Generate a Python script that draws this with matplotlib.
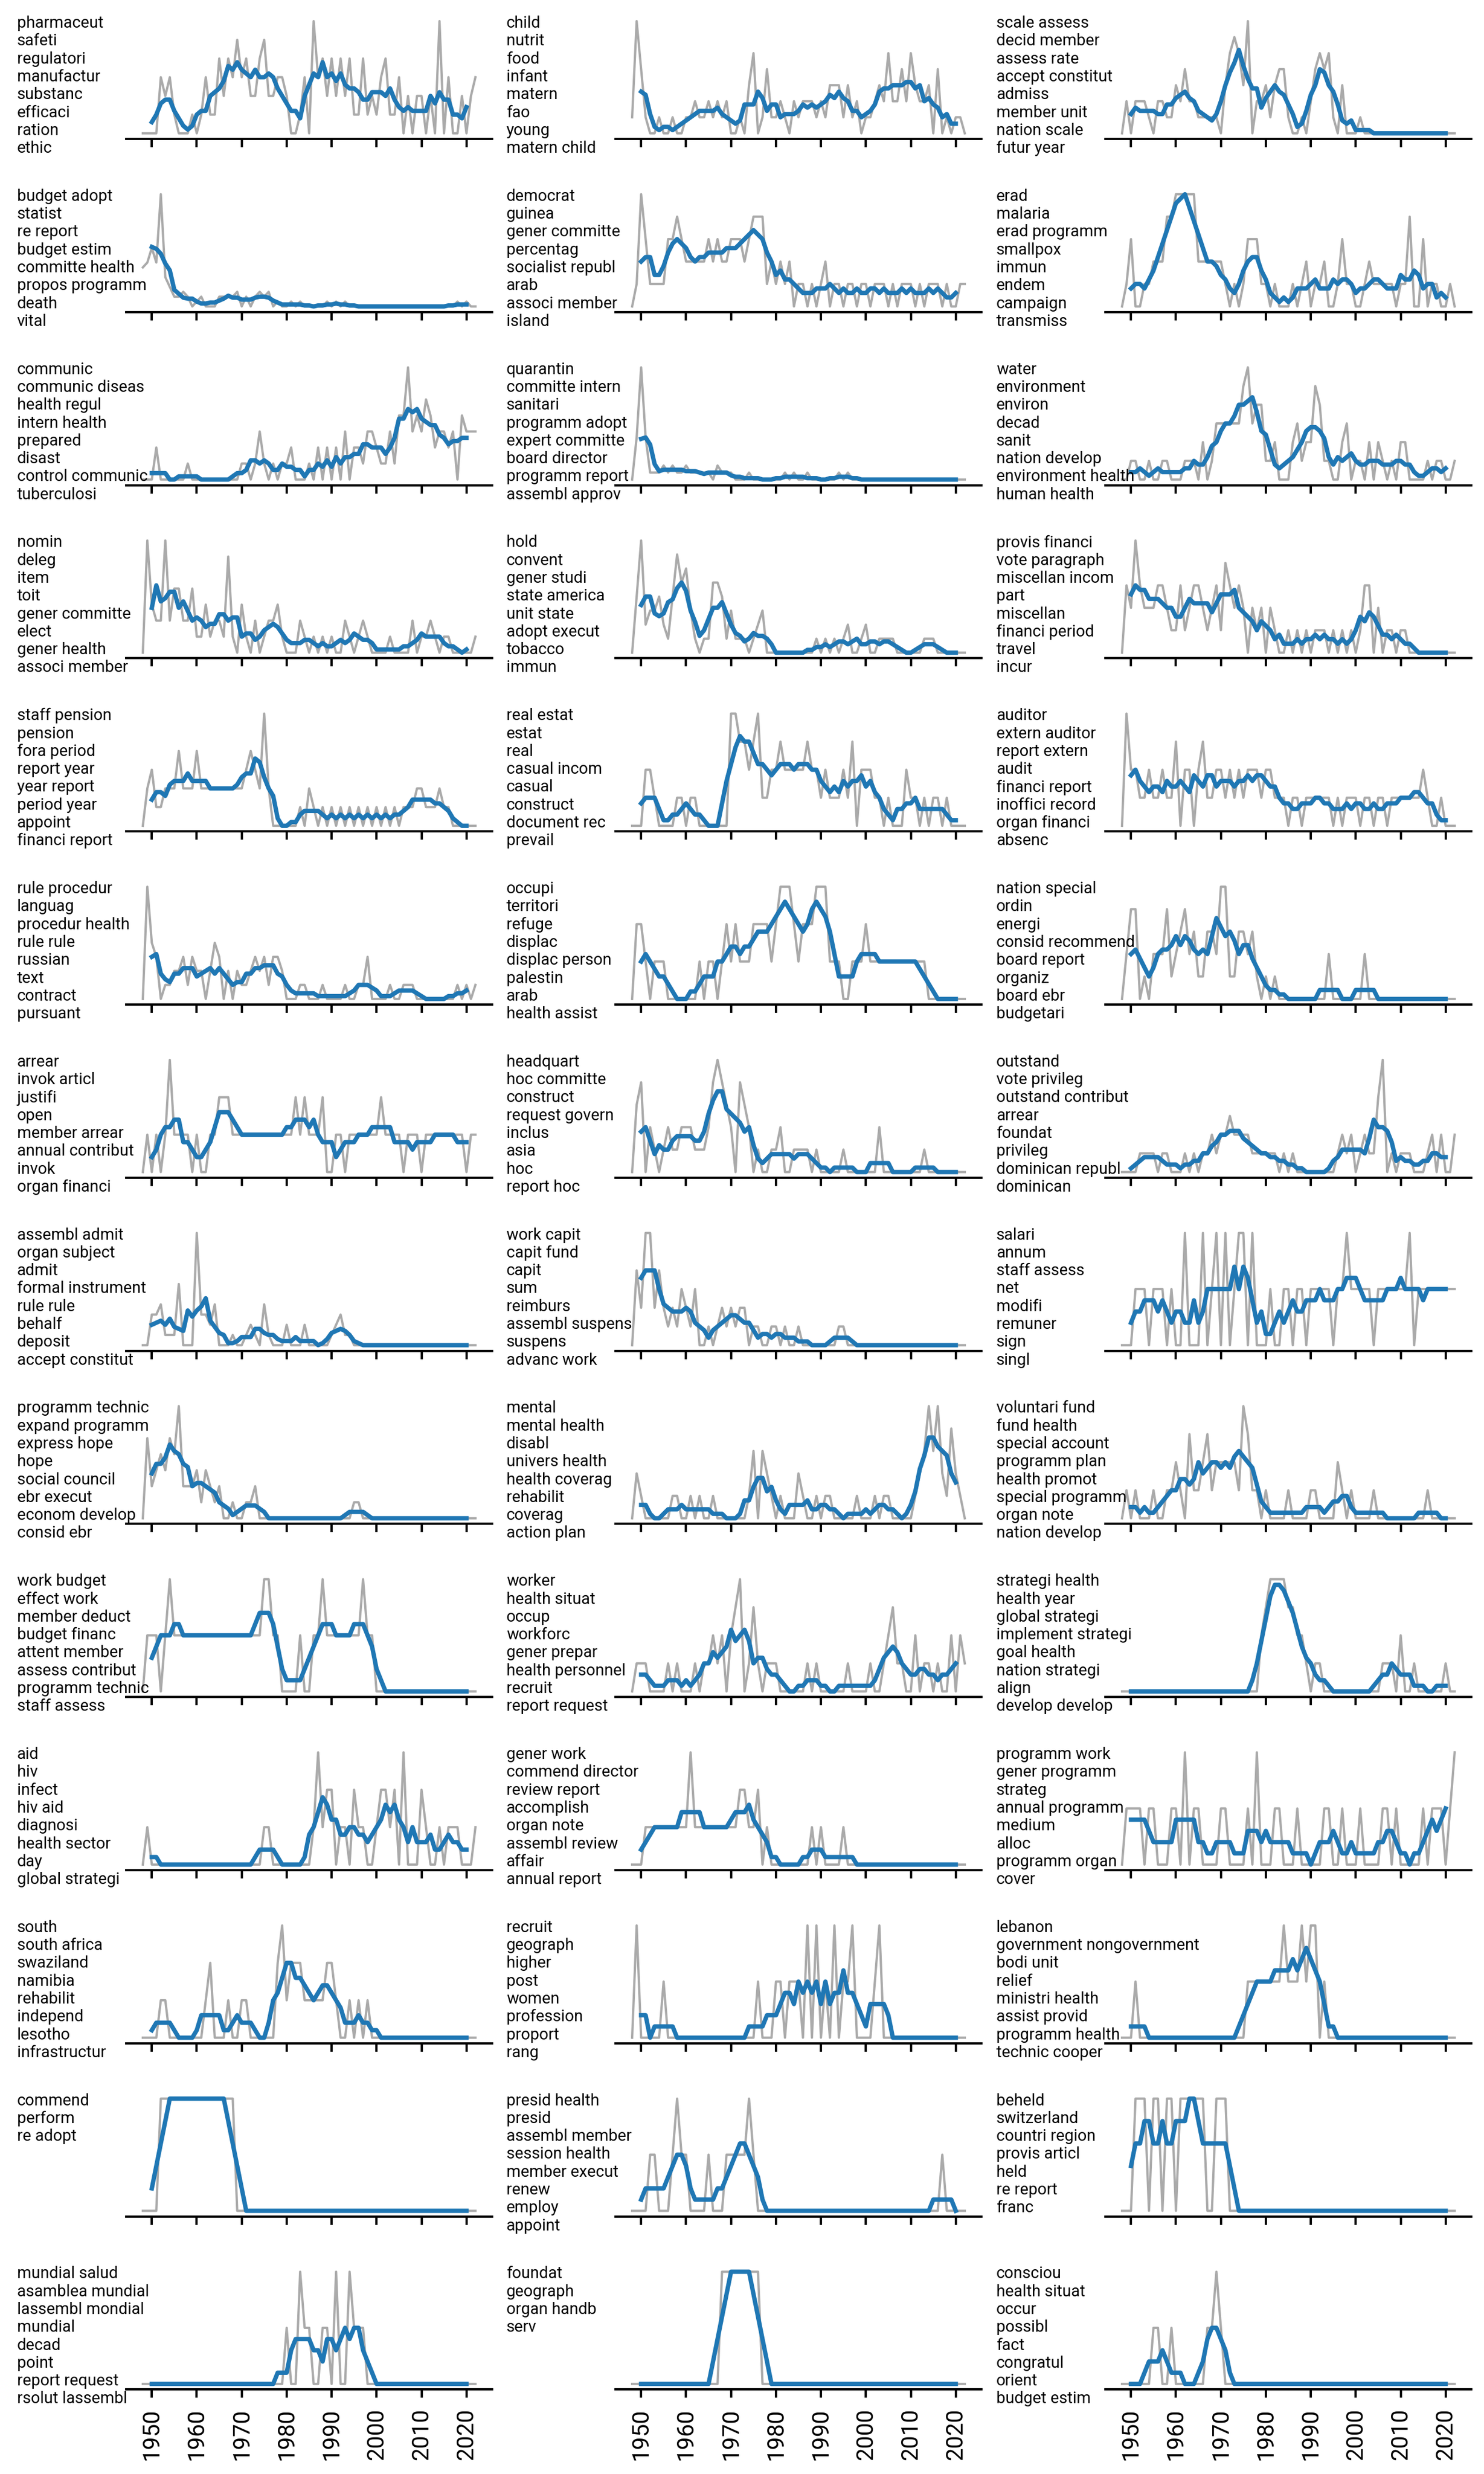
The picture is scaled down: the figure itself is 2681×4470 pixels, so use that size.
import numpy as np
import pandas as pd
import matplotlib
matplotlib.use("Agg")
import matplotlib.pyplot as plt

plt.rcParams['font.family'] = ['Roboto', 'DejaVu Sans']

# yearly counts 1948-2022, one list per topic
years = np.arange(1948, 2023)

pharmaceut_words = ["pharmaceut", "safeti", "regulatori", "manufactur", "substanc", "efficaci", "ration", "ethic"]
pharmaceut = [0,0,0,0,3,2,3,1,0,0, 0,1,0,1,3,1,1,4,2,4, 3,5,3,4,2,2,4,5,2,2, 3,3,2,0,0,1,3,0,6,3,
              4,2,4,2,4,2,4,1,1,4, 1,2,1,3,4,1,1,3,0,2, 0,2,2,0,2,0,6,0,3,0, 0,2,0,2,3]

child_words = ["child", "nutrit", "food", "infant", "matern", "fao", "young", "matern child"]
child = [1,7,4,1,0,0,1,0,0,1, 0,0,1,1,2,1,1,2,1,2, 1,2,0,0,1,0,3,5,0,1, 4,1,1,2,1,0,2,1,2,2,
         2,1,2,1,3,3,3,1,3,1, 2,0,1,1,2,3,2,5,2,2, 4,2,5,3,2,2,3,0,4,0, 1,0,1,1,0]

scale_assess_words = ["scale assess", "decid member", "assess rate", "accept constitut", "admiss", "member unit", "nation scale", "futur year"]
scale_assess = [0,2,0,2,2,2,1,0,2,2, 1,1,3,2,4,2,2,1,1,1, 1,1,0,3,5,6,5,3,7,0, 2,2,3,1,3,4,4,1,0,0,
                1,0,2,4,5,4,5,1,0,3, 0,0,0,1,0,0,0,0,0,0, 0,0,0,0,0,0,0,0,0,0, 0,0,0,0,0]

budget_adopt_words = ["budget adopt", "statist", "re report", "budget estim", "committe health", "propos programm", "death", "vital"]
budget_adopt = [8,9,12,9,23,6,4,2,2,3, 2,0,1,2,0,0,0,2,2,2, 2,3,0,2,0,2,3,2,3,0, 1,0,0,1,0,1,0,0,0,0,
                0,1,0,1,0,1,0,0,0,0, 0,0,0,0,0,0,0,0,0,0, 0,0,0,0,0,0,0,0,0,0, 1,0,1,0,0]

democrat_words = ["democrat", "guinea", "gener committe", "percentag", "socialist republ", "arab", "associ member", "island"]
democrat = [0,1,5,3,1,1,1,1,3,3, 4,3,2,2,2,2,2,3,2,3, 2,2,3,3,3,2,3,4,4,4, 1,2,1,2,1,2,0,1,1,0,
            1,0,1,2,0,1,1,0,1,1, 0,1,1,0,1,1,1,0,1,0, 1,1,1,0,1,0,1,1,1,0, 1,0,0,1,1]

erad_words = ["erad", "malaria", "erad programm", "smallpox", "immun", "endem", "campaign", "transmiss"]
erad = [0,1,3,0,0,1,1,2,2,2, 4,4,5,5,5,5,5,2,2,2, 2,2,2,1,0,1,0,1,3,3, 3,1,1,0,1,0,0,0,1,0,
        1,2,0,1,1,2,0,0,1,3, 1,1,0,0,1,2,1,1,1,1, 1,0,1,1,4,0,0,3,0,1, 1,0,0,1,0]

communic_words = ["communic", "communic diseas", "health regul", "intern health", "prepared", "disast", "control communic", "tuberculosi"]
communic = [0,0,0,2,0,0,0,0,0,0, 1,0,0,0,0,0,0,0,0,0, 0,0,1,1,0,1,3,1,0,1, 0,1,1,2,0,0,0,1,0,2,
            0,2,0,2,0,3,0,2,2,1, 3,3,2,1,1,3,1,4,4,7, 3,4,3,5,4,2,3,3,2,3, 0,4,3,3,3]

quarantin_words = ["quarantin", "committe intern", "sanitari", "programm adopt", "expert committe", "board director", "programm report", "assembl approv"]
quarantin = [0,6,16,6,1,1,1,2,1,2, 1,1,2,1,1,1,1,1,0,2, 1,1,1,0,0,0,1,0,0,0, 0,0,0,0,1,0,1,0,0,1,
             0,0,0,0,0,0,1,0,1,0, 0,0,0,0,0,0,0,0,0,0, 0,0,0,0,0,0,0,0,0,0, 0,0,0,0,0]

water_words = ["water", "environment", "environ", "decad", "sanit", "nation develop", "environment health", "human health"]
water = [0,0,1,1,0,0,1,0,0,1, 1,0,0,0,1,1,1,0,2,0, 1,3,3,3,3,3,3,5,6,3, 4,4,1,1,2,0,0,0,2,3,
         1,2,2,5,4,1,1,0,0,2, 3,0,1,1,0,2,0,2,1,0, 1,0,2,2,0,0,0,0,1,0, 1,1,0,0,1]

nomin_words = ["nomin", "deleg", "item", "toit", "gener committe", "elect", "gener health", "associ member"]
nomin = [0,7,3,2,2,7,2,4,4,2, 2,4,1,1,3,1,2,2,1,6, 1,0,3,1,0,2,0,1,2,2, 3,1,0,0,0,2,1,0,1,0,
         1,0,1,0,0,2,1,0,1,2, 1,0,0,0,0,1,0,0,0,0, 2,0,1,1,2,1,0,1,1,0, 0,0,0,0,1]

hold_words = ["hold", "convent", "gener studi", "state america", "unit state", "adopt execut", "tobacco", "immun"]
hold = [0,4,8,2,3,3,4,2,1,4, 7,5,6,3,1,0,1,1,5,5, 4,1,3,1,1,1,0,1,2,3, 0,0,0,0,0,0,0,0,0,0,
        0,1,0,1,0,1,0,1,2,0, 0,1,2,0,0,1,1,1,1,0, 0,0,0,0,0,1,1,1,0,0, 0,0,0,0,0]

provis_financi_words = ["provis financi", "vote paragraph", "miscellan incom", "part", "miscellan", "financi period", "travel", "incur"]
provis_financi = [0,3,2,5,3,2,2,2,3,3, 2,1,1,3,1,2,3,3,2,1, 2,3,1,4,3,2,3,2,0,2, 1,2,0,2,1,0,0,1,0,1,
                  0,1,0,1,1,1,0,1,0,1, 0,1,0,1,3,3,0,2,0,1, 1,0,1,1,0,0,0,0,0,0, 0,0,0,0,0]

staff_pension_words = ["staff pension", "pension", "fora period", "report year", "year report", "period year", "appoint", "financi report"]
staff_pension = [0,2,3,1,1,2,2,2,4,2, 2,2,4,2,2,2,2,2,2,2, 2,2,2,3,4,3,2,6,2,0, 0,0,0,0,0,1,0,2,1,0,
                 1,0,1,0,1,0,1,0,1,0, 1,0,1,0,1,0,1,0,1,1, 1,2,2,1,1,1,2,1,1,0, 0,0,0,0,0]

real_estat_words = ["real estat", "estat", "real", "casual incom", "casual", "construct", "document rec", "prevail"]
real_estat = [0,0,0,2,2,1,0,0,0,0, 1,1,0,1,1,0,0,0,0,0, 0,0,4,4,3,3,2,3,4,1, 1,2,2,3,2,2,2,2,2,3,
              2,2,1,2,1,1,1,2,1,3, 0,2,2,2,1,1,0,1,0,0, 0,2,1,1,0,1,0,1,1,0, 1,0,0,0,0]

auditor_words = ["auditor", "extern auditor", "report extern", "audit", "financi report", "inoffici record", "organ financi", "absenc"]
auditor = [0,4,2,2,1,1,2,1,1,2, 1,1,3,0,2,2,0,2,3,1, 1,2,2,1,2,1,2,1,2,2, 2,1,2,2,1,1,1,0,1,1,
           0,1,1,1,1,1,1,0,1,0, 1,1,1,0,1,1,0,1,1,0, 1,1,1,1,1,1,1,2,1,0, 0,1,0,0,0]

rule_procedur_words = ["rule procedur", "languag", "procedur health", "rule rule", "russian", "text", "contract", "pursuant"]
rule_procedur = [0,8,4,3,0,1,1,2,2,3, 1,3,2,2,0,2,4,3,0,2, 0,2,1,1,2,3,2,3,1,3, 3,2,0,0,0,1,1,0,0,0,
                 1,0,0,0,0,1,0,0,1,1, 3,0,0,0,0,1,0,0,1,1, 1,0,0,0,0,0,0,0,0,0, 1,0,1,0,1]

occupi_words = ["occupi", "territori", "refuge", "displac", "displac person", "palestin", "arab", "health assist"]
occupi = [0,2,2,1,0,1,1,1,0,0, 0,0,0,0,0,1,0,1,1,0, 1,2,1,2,1,1,1,2,2,2, 2,1,2,3,3,3,2,1,2,2,
          2,3,3,3,1,1,1,0,0,1, 1,1,2,1,1,1,1,1,1,1, 1,1,1,1,1,1,0,0,0,0, 0,0,0,0,0]

nation_special_words = ["nation special", "ordin", "energi", "consid recommend", "board report", "organiz", "board ebr", "budgetari"]
nation_special = [0,2,4,4,0,1,0,2,2,2, 4,1,2,3,4,2,3,1,1,3, 3,2,5,5,1,1,3,3,2,3, 1,0,1,0,1,0,0,0,0,0,
                  0,0,0,0,0,0,2,0,0,0, 0,0,0,0,2,0,0,0,0,0, 0,0,0,0,0,0,0,0,0,0, 0,0,0,0,0]

arrear_words = ["arrear", "invok articl", "justifi", "open", "member arrear", "annual contribut", "invok", "organ financi"]
arrear = [0,1,0,1,0,1,3,1,1,1, 1,0,1,0,0,1,1,2,2,2, 1,1,1,1,1,1,1,1,1,1, 1,1,1,1,2,1,2,1,1,1,
          2,0,0,1,1,0,1,1,1,1, 1,1,1,2,1,1,1,1,0,1, 1,1,0,1,1,1,1,1,1,1, 1,1,0,1,1]

headquart_words = ["headquart", "hoc committe", "construct", "request govern", "inclus", "asia", "hoc", "report hoc"]
headquart = [0,3,4,0,2,1,0,1,2,1, 1,2,2,2,1,1,1,2,4,5, 4,3,2,0,4,3,2,0,1,0, 0,1,1,2,0,0,1,1,1,1,
             0,1,0,0,0,0,0,1,0,0, 0,0,0,0,0,2,0,0,0,0, 0,0,0,0,0,1,0,0,0,0, 0,0,0,0,0]

outstand_words = ["outstand", "vote privileg", "outstand contribut", "arrear", "foundat", "privileg", "dominican republ", "dominican"]
outstand = [0,0,0,0,1,1,1,1,0,1, 1,0,0,0,1,0,1,0,1,1, 2,1,2,2,3,2,2,2,2,1, 1,1,1,1,1,0,1,0,1,0,
            0,0,0,0,0,0,0,0,1,2, 1,2,0,1,2,1,1,4,6,0, 1,0,1,1,1,0,0,0,1,2, 0,2,0,0,2]

assembl_admit_words = ["assembl admit", "organ subject", "admit", "formal instrument", "rule rule", "behalf", "deposit", "accept constitut"]
assembl_admit = [0,0,3,3,4,1,1,1,6,0, 0,0,11,3,3,2,4,0,0,0, 1,0,0,1,2,1,0,4,1,0, 0,0,2,0,0,0,2,0,0,0,
                 0,0,1,2,3,1,1,0,0,0, 0,0,0,0,0,0,0,0,0,0, 0,0,0,0,0,0,0,0,0,0, 0,0,0,0,0]

work_capit_words = ["work capit", "capit fund", "capit", "sum", "reimburs", "assembl suspens", "suspens", "advanc work"]
work_capit = [0,4,2,6,6,2,4,2,1,2, 1,3,2,1,3,0,0,1,0,1, 2,1,2,1,2,2,0,1,1,0, 0,1,1,0,1,0,0,1,0,0,
              0,0,0,0,0,0,1,1,0,0, 0,0,0,0,0,0,0,0,0,0, 0,0,0,0,0,0,0,0,0,0, 0,0,0,0,0]

salari_words = ["salari", "annum", "staff assess", "net", "modifi", "remuner", "sign", "singl"]
salari = [0,0,0,1,1,1,0,1,1,1, 0,1,0,0,2,0,0,0,2,0, 1,2,0,2,0,1,2,2,0,2, 0,0,0,1,0,0,1,1,0,1,
          1,0,1,1,1,1,1,0,1,1, 2,1,1,1,1,1,0,1,1,1, 1,1,1,1,2,0,1,1,1,1, 1,1,1,1,1]

programm_technic_words = ["programm technic", "expand programm", "express hope", "hope", "social council", "ebr execut", "econom develop", "consid ebr"]
programm_technic = [0,5,2,3,4,3,5,4,7,2, 2,2,3,1,3,2,1,2,0,0, 1,0,0,1,1,2,0,0,0,0, 0,0,0,0,0,0,0,0,0,0,
                    0,0,0,0,0,0,0,1,1,0, 0,0,0,0,0,0,0,0,0,0, 0,0,0,0,0,0,0,0,0,0, 0,0,0,0,0]

mental_words = ["mental", "mental health", "disabl", "univers health", "health coverag", "rehabilit", "coverag", "action plan"]
mental = [0,2,1,0,0,0,0,0,0,1, 1,0,0,1,0,1,0,0,1,0, 0,0,0,0,0,0,1,3,0,3, 2,1,0,1,0,0,0,2,1,0,
          0,1,0,1,1,0,0,0,0,0, 1,0,0,0,1,0,1,1,0,0, 0,0,0,1,2,3,5,3,5,2, 1,4,2,1,0]

voluntari_fund_words = ["voluntari fund", "fund health", "special account", "programm plan", "health promot", "special programm", "organ note", "nation develop"]
voluntari_fund = [0,1,0,1,0,0,0,1,0,0, 1,1,2,1,0,3,1,1,2,3, 1,2,2,2,2,2,1,4,3,1, 1,0,1,0,0,0,0,1,0,0,
                  0,0,1,1,0,0,0,0,2,1, 0,1,0,0,0,0,1,0,0,0, 0,0,0,0,0,0,0,0,1,0, 0,0,0,0,0]

work_budget_words = ["work budget", "effect work", "member deduct", "budget financ", "attent member", "assess contribut", "programm technic", "staff assess"]
work_budget = [0,1,1,1,0,1,2,1,1,1, 1,1,1,1,1,1,1,1,1,1, 1,1,1,1,1,1,1,2,2,1, 1,0,0,0,0,1,0,0,1,1,
               2,1,1,1,1,1,1,1,1,2, 1,1,0,0,0,0,0,0,0,0, 0,0,0,0,0,0,0,0,0,0, 0,0,0,0,0]

worker_words = ["worker", "health situat", "occup", "workforc", "gener prepar", "health personnel", "recruit", "report request"]
worker = [0,1,1,1,0,0,0,0,1,0, 1,0,0,0,1,0,1,1,2,1, 2,0,2,3,4,0,1,3,1,0, 1,1,1,0,0,0,0,0,0,1,
          0,1,0,0,0,0,0,0,1,0, 0,0,0,1,0,0,1,2,3,1, 1,0,0,2,0,1,1,0,1,0, 0,2,0,2,1]

strategi_health_words = ["strategi health", "health year", "global strategi", "implement strategi", "goal health", "nation strategi", "align", "develop develop"]
strategi_health = [0,0,0,0,0,0,0,0,0,0, 0,0,0,0,0,0,0,0,0,0, 0,0,0,0,0,0,0,0,0,0, 0,2,3,4,4,4,4,3,3,2,
                   2,1,0,1,1,0,0,0,0,0, 0,0,0,0,0,0,0,0,1,1, 1,0,2,0,0,1,0,0,0,0, 0,0,1,0,0]

aid_words = ["aid", "hiv", "infect", "hiv aid", "diagnosi", "health sector", "day", "global strategi"]
aid = [0,1,0,0,0,0,0,0,0,0, 0,0,0,0,0,0,0,0,0,0, 0,0,0,0,0,0,0,1,1,0, 0,0,0,0,0,0,0,0,1,3,
       1,2,2,0,1,1,0,2,1,1, 0,0,1,2,2,1,2,0,3,0, 0,0,2,1,0,0,1,0,1,1, 1,0,0,0,1]

gener_work_words = ["gener work", "commend director", "review report", "accomplish", "organ note", "assembl review", "affair", "annual report"]
gener_work = [0,0,0,1,1,1,1,1,1,1, 1,1,1,3,1,1,1,1,1,1, 1,1,1,1,2,2,1,1,2,0, 1,0,0,0,0,0,0,0,0,0,
              1,0,1,0,0,0,0,1,0,0, 0,0,0,0,0,0,0,0,0,0, 0,0,0,0,0,0,0,0,0,0, 0,0,0,0,0]

programm_work_words = ["programm work", "gener programm", "strateg", "annual programm", "medium", "alloc", "programm organ", "cover"]
programm_work = [0,1,1,1,1,0,1,1,0,0, 0,1,1,0,2,0,1,1,0,0, 0,0,1,1,0,0,0,0,1,0, 2,0,0,0,1,1,0,0,0,1,
                 0,0,0,0,0,1,1,0,0,1, 0,0,0,1,0,0,0,0,1,1, 0,1,0,0,0,0,0,1,0,1, 1,1,0,1,2]

south_words = ["south", "south africa", "swaziland", "namibia", "rehabilit", "independ", "lesotho", "infrastructur"]
south = [0,0,0,0,1,1,0,0,0,0, 0,0,0,0,1,2,0,0,0,1, 0,0,1,1,0,0,0,0,0,0, 2,3,1,2,2,2,1,1,1,1,
         1,2,2,1,0,0,1,0,1,0, 1,0,0,0,0,0,0,0,0,0, 0,0,0,0,0,0,0,0,0,0, 0,0,0,0,0]

recruit_words = ["recruit", "geograph", "higher", "post", "women", "profession", "proport", "rang"]
recruit = [0,2,0,0,0,0,0,1,0,0, 0,0,0,0,0,0,0,0,0,0, 0,0,0,0,0,0,0,0,1,0, 0,0,1,1,0,1,1,1,0,2,
           0,2,0,1,0,2,0,1,1,2, 0,0,0,0,1,2,0,0,0,0, 0,0,0,0,0,0,0,0,0,0, 0,0,0,0,0]

lebanon_words = ["lebanon", "government nongovernment", "bodi unit", "relief", "ministri health", "assist provid", "programm health", "technic cooper"]
lebanon = [0,0,0,1,0,0,0,0,0,0, 0,0,0,0,0,0,0,0,0,0, 0,0,0,0,0,0,0,0,1,1, 1,1,1,1,1,1,2,1,1,1,
           2,1,2,2,0,1,0,0,0,0, 0,0,0,0,0,0,0,0,0,0, 0,0,0,0,0,0,0,0,0,0, 0,0,0,0,0]

commend_words = ["commend", "perform", "re adopt"]
commend = [0,0,0,0,1,1,1,1,1,1, 1,1,1,1,1,1,1,1,1,1, 1,0,0,0,0,0,0,0,0,0, 0,0,0,0,0,0,0,0,0,0,
           0,0,0,0,0,0,0,0,0,0, 0,0,0,0,0,0,0,0,0,0, 0,0,0,0,0,0,0,0,0,0, 0,0,0,0,0]

presid_health_words = ["presid health", "presid", "assembl member", "session health", "member execut", "renew", "employ", "appoint"]
presid_health = [0,0,0,0,1,1,0,0,0,1, 2,1,1,0,0,0,0,1,0,0, 0,1,1,1,1,1,2,1,0,0, 0,0,0,0,0,0,0,0,0,0,
                 0,0,0,0,0,0,0,0,0,0, 0,0,0,0,0,0,0,0,0,0, 0,0,0,0,0,0,0,0,0,1, 0,0,0,0,0]

beheld_words = ["beheld", "switzerland", "countri region", "provis articl", "held", "re report", "franc"]
beheld = [0,0,0,1,1,1,0,1,1,0, 1,1,0,1,1,1,1,1,1,0, 0,1,1,1,0,0,0,0,0,0, 0,0,0,0,0,0,0,0,0,0,
          0,0,0,0,0,0,0,0,0,0, 0,0,0,0,0,0,0,0,0,0, 0,0,0,0,0,0,0,0,0,0, 0,0,0,0,0]

mundial_words = ["mundial salud", "asamblea mundial", "lassembl mondial", "mundial", "decad", "point", "report request", "rsolut lassembl"]
mundial = [0,0,0,0,0,0,0,0,0,0, 0,0,0,0,0,0,0,0,0,0, 0,0,0,0,0,0,0,0,0,0, 0,0,1,0,0,2,1,1,0,0,
           1,1,0,2,0,0,2,1,1,1, 0,0,0,0,0,0,0,0,0,0, 0,0,0,0,0,0,0,0,0,0, 0,0,0,0,0]

foundat_words = ["foundat", "geograph", "organ handb", "serv"]
foundat = [0,0,0,0,0,0,0,0,0,0, 0,0,0,0,0,0,0,0,0,0, 1,1,1,1,1,1,1,1,1,0, 0,0,0,0,0,0,0,0,0,0,
           0,0,0,0,0,0,0,0,0,0, 0,0,0,0,0,0,0,0,0,0, 0,0,0,0,0,0,0,0,0,0, 0,0,0,0,0]

consciou_words = ["consciou", "health situat", "occur", "possibl", "fact", "congratul", "orient", "budget estim"]
consciou = [0,0,0,0,0,0,0,1,1,0, 0,1,0,0,0,0,0,0,0,1, 1,2,1,0,0,0,0,0,0,0, 0,0,0,0,0,0,0,0,0,0,
            0,0,0,0,0,0,0,0,0,0, 0,0,0,0,0,0,0,0,0,0, 0,0,0,0,0,0,0,0,0,0, 0,0,0,0,0]

# row by row, three per row
panels = [
    (pharmaceut_words, pharmaceut), (child_words, child), (scale_assess_words, scale_assess),
    (budget_adopt_words, budget_adopt), (democrat_words, democrat), (erad_words, erad),
    (communic_words, communic), (quarantin_words, quarantin), (water_words, water),
    (nomin_words, nomin), (hold_words, hold), (provis_financi_words, provis_financi),
    (staff_pension_words, staff_pension), (real_estat_words, real_estat), (auditor_words, auditor),
    (rule_procedur_words, rule_procedur), (occupi_words, occupi), (nation_special_words, nation_special),
    (arrear_words, arrear), (headquart_words, headquart), (outstand_words, outstand),
    (assembl_admit_words, assembl_admit), (work_capit_words, work_capit), (salari_words, salari),
    (programm_technic_words, programm_technic), (mental_words, mental), (voluntari_fund_words, voluntari_fund),
    (work_budget_words, work_budget), (worker_words, worker), (strategi_health_words, strategi_health),
    (aid_words, aid), (gener_work_words, gener_work), (programm_work_words, programm_work),
    (south_words, south), (recruit_words, recruit), (lebanon_words, lebanon),
    (commend_words, commend), (presid_health_words, presid_health), (beheld_words, beheld),
    (mundial_words, mundial), (foundat_words, foundat), (consciou_words, consciou),
]

W, H, DPI = 2681, 4470, 300
COL_LEFT = [228, 1112, 1997]   # axes left edge, px
AX_W, AX_H = 661, 223
ROW_STEP = 312.8
FIRST_SPINE = 251
N_ROWS = 14


def smooth(counts):
    # centred 5 year mean
    return pd.Series(counts, dtype=float).rolling(5, center=True).mean()


def main():
    fig = plt.figure(figsize=(W / DPI, H / DPI), dpi=DPI)

    for i, (words, counts) in enumerate(panels):
        assert len(counts) == len(years), (words[0], len(counts))
        r, c = divmod(i, 3)
        spine_y = FIRST_SPINE + ROW_STEP * r
        top_y = spine_y - AX_H
        ax = fig.add_axes([COL_LEFT[c] / W, 1 - spine_y / H, AX_W / W, AX_H / H])

        ax.plot(years, counts, color='#aaaaaa', lw=1.0, zorder=2)
        ax.plot(years, smooth(counts), color='#1f77b4', lw=1.9, zorder=3)

        for side in ['left', 'right', 'top']:
            ax.spines[side].set_visible(False)
        ax.spines['bottom'].set_linewidth(1.0)
        ax.set_yticks([])
        ax.set_xticks(range(1950, 2021, 10))
        ax.tick_params(axis='x', length=3.6, width=1.0, labelsize=10, rotation=90, pad=4.5)
        if r < N_ROWS - 1:
            ax.tick_params(axis='x', labelbottom=False)

        # word list left of the panel
        for k, w in enumerate(words):
            fig.text((COL_LEFT[c] - 197) / W, 1 - (top_y + 14 + 32.3 * k) / H, w,
                     fontsize=7, ha='left', va='center')

    fig.savefig('out.png', dpi=DPI)


if __name__ == "__main__":
    main()
